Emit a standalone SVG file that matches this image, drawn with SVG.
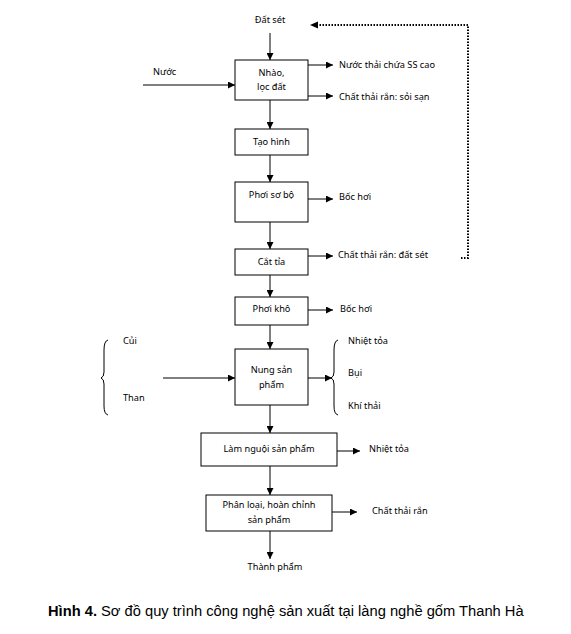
<svg xmlns="http://www.w3.org/2000/svg" width="571" height="634" viewBox="0 0 571 634">
<style>
.box{fill:#fff;stroke:#000;stroke-width:1}
.t{font-family:"Noto Sans","Open Sans",sans-serif;font-size:9.2px;fill:#000}
.c{text-anchor:middle}
.ln{stroke:#000;stroke-width:1;fill:none}
.dot{stroke:#000;stroke-width:2;stroke-dasharray:1.5 1.5;fill:none}
.cap{font-family:"Liberation Sans",Arial,sans-serif;font-size:14.7px;fill:#000}
</style>
<defs>
<marker id="ah" viewBox="0 0 10 10" refX="10" refY="5" markerWidth="7" markerHeight="7" markerUnits="userSpaceOnUse" orient="auto">
<path d="M0,0 L10,5 L0,10 z" fill="#000"/>
</marker>
</defs>
<rect width="571" height="634" fill="#fff"/>
<g id="connectors">
<line class="ln" x1="270" y1="33" x2="270" y2="60" marker-end="url(#ah)"/>
<line class="ln" x1="143" y1="85" x2="235" y2="85" marker-end="url(#ah)"/>
<line class="ln" x1="308" y1="65" x2="333" y2="65" marker-end="url(#ah)"/>
<line class="ln" x1="308" y1="96" x2="333" y2="96" marker-end="url(#ah)"/>
<line class="ln" x1="270" y1="100" x2="270" y2="129" marker-end="url(#ah)"/>
<line class="ln" x1="270" y1="155" x2="270" y2="182" marker-end="url(#ah)"/>
<line class="ln" x1="308" y1="199" x2="333" y2="199" marker-end="url(#ah)"/>
<line class="ln" x1="270" y1="222" x2="270" y2="249" marker-end="url(#ah)"/>
<line class="ln" x1="308" y1="256" x2="333" y2="256" marker-end="url(#ah)"/>
<line class="ln" x1="270" y1="275" x2="270" y2="297" marker-end="url(#ah)"/>
<line class="ln" x1="308" y1="310" x2="333" y2="310" marker-end="url(#ah)"/>
<line class="ln" x1="270" y1="325" x2="270" y2="349" marker-end="url(#ah)"/>
<line class="ln" x1="163" y1="378" x2="235" y2="378" marker-end="url(#ah)"/>
<line class="ln" x1="308" y1="378" x2="332" y2="378" marker-end="url(#ah)"/>
<line class="ln" x1="270" y1="405" x2="270" y2="433" marker-end="url(#ah)"/>
<line class="ln" x1="337" y1="451" x2="360" y2="451" marker-end="url(#ah)"/>
<line class="ln" x1="270" y1="466" x2="270" y2="495" marker-end="url(#ah)"/>
<line class="ln" x1="332" y1="512" x2="357" y2="512" marker-end="url(#ah)"/>
<line class="ln" x1="270" y1="531" x2="270" y2="559" marker-end="url(#ah)"/>
<polyline class="dot" points="461,258 468,258 468,25 318,25"/>
<path d="M310,25 L318,21.5 L318,28.5 z" fill="#000"/>
<path class="ln" d="M108,340 Q104,341 104,350 L104,372 Q104,377 101,378 Q104,379 104,384 L104,406 Q104,414 108,415"/>
<path class="ln" d="M338,340 Q334,341 334,350 L334,372 Q334,377 331,378 Q334,379 334,384 L334,406 Q334,414 338,415"/>
</g>
<g id="n-dat-set"><text class="t c" x="270" y="23">Đất sét</text></g>
<g id="n-nuoc"><text class="t" x="153" y="75">Nước</text></g>
<g id="n-nhao"><rect class="box" x="235" y="60" width="73" height="40"/><text class="t c" x="271.5" y="76">Nhào,</text><text class="t c" x="271.5" y="90">lọc đất</text></g>
<g id="n-nuoc-thai"><text class="t" x="339" y="68">Nước thải chứa SS cao</text></g>
<g id="n-soi-san"><text class="t" x="339" y="100">Chất thải rắn: sỏi sạn</text></g>
<g id="n-tao-hinh"><rect class="box" x="235" y="129" width="73" height="26"/><text class="t c" x="271.5" y="145">Tạo hình</text></g>
<g id="n-phoi-so-bo"><rect class="box" x="235" y="182" width="73" height="40"/><text class="t c" x="271.5" y="198">Phơi sơ bộ</text></g>
<g id="n-boc-hoi-1"><text class="t" x="339" y="200">Bốc hơi</text></g>
<g id="n-cat-tia"><rect class="box" x="235" y="249" width="73" height="26"/><text class="t c" x="271.5" y="265">Cắt tỉa</text></g>
<g id="n-dat-set-thai"><text class="t" x="338" y="258">Chất thải rắn: đất sét</text></g>
<g id="n-phoi-kho"><rect class="box" x="235" y="297" width="73" height="28"/><text class="t c" x="271.5" y="312">Phơi khô</text></g>
<g id="n-boc-hoi-2"><text class="t" x="340" y="312">Bốc hơi</text></g>
<g id="n-cui"><text class="t" x="123" y="344">Củi</text></g>
<g id="n-than"><text class="t" x="123" y="401">Than</text></g>
<g id="n-nung"><rect class="box" x="235" y="349" width="73" height="56"/><text class="t c" x="271.5" y="373">Nung sản</text><text class="t c" x="271.5" y="388">phẩm</text></g>
<g id="n-nhiet-toa-1"><text class="t" x="348" y="344">Nhiệt tỏa</text></g>
<g id="n-bui"><text class="t" x="348" y="376">Bụi</text></g>
<g id="n-khi-thai"><text class="t" x="348" y="409">Khí thải</text></g>
<g id="n-lam-nguoi"><rect class="box" x="201" y="433" width="136" height="33"/><text class="t c" x="269" y="452">Làm nguội sản phẩm</text></g>
<g id="n-nhiet-toa-2"><text class="t" x="369" y="452">Nhiệt tỏa</text></g>
<g id="n-phan-loai"><rect class="box" x="206" y="495" width="126" height="36"/><text class="t c" x="269" y="508">Phân loại, hoàn chỉnh</text><text class="t c" x="269" y="523">sản phẩm</text></g>
<g id="n-chat-thai-ran"><text class="t" x="372" y="514">Chất thải rắn</text></g>
<g id="n-thanh-pham"><text class="t c" x="275" y="570">Thành phẩm</text></g>
<g id="caption"><text class="cap" x="48" y="616"><tspan font-weight="bold">Hình 4.</tspan> Sơ đồ quy trình công nghệ sản xuất tại làng nghề gốm Thanh Hà</text></g>
</svg>
